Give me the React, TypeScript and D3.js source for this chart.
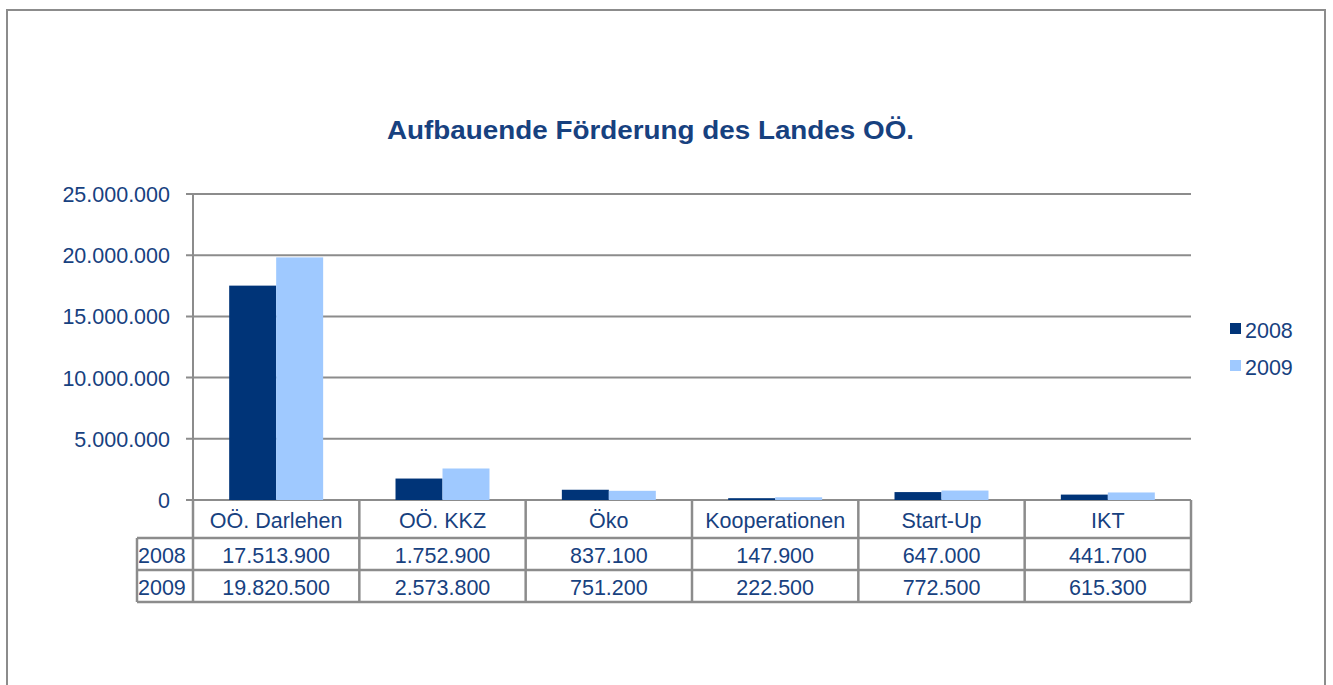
import React from "react";
import * as d3 from "d3";

const categories = ["OÖ. Darlehen", "OÖ. KKZ", "Öko", "Kooperationen", "Start-Up", "IKT"];
const series = ["2008", "2009"];
const values2008 = [17513900, 1752900, 837100, 147900, 647000, 441700];
const values2009 = [19820500, 2573800, 751200, 222500, 772500, 615300];
const yTicks = [0, 5000000, 10000000, 15000000, 20000000, 25000000];
const colors = ["#003478", "#9FC9FF"];

const W = 1333, H = 685;
const left = 193, right = 1191, top = 194, bottom = 500;
const textColor = "#17417F";
const grid = "#8C8C8C";
const font = "'Liberation Sans', Arial, sans-serif";
const fs = 21.5;

const fmt = (v: number) => d3.format(",")(v).replace(/,/g, ".");

export default function App() {
  const x = d3.scaleBand().domain(categories).range([left, right]);
  const inner = d3.scaleBand().domain(series).range([0, x.bandwidth()]).paddingOuter(0.77);
  const y = d3.scaleLinear().domain([0, 25000000]).range([bottom, top]);
  const data = [values2008, values2009];
  const rowH = [38, 32, 32];
  const tableTop = bottom;
  const rowLabelLeft = 137;

  return (
    <svg width={W} height={H} style={{ position: "absolute", left: 0, top: 0 }}>
      <rect x={0} y={0} width={W} height={H} fill="#fff" />
      <rect x={7} y={10} width={1318} height={700} fill="#fff" stroke="#8C8C8C" strokeWidth={2} />
      <text x={387} y={139} textLength={527} lengthAdjust="spacingAndGlyphs" fontFamily={font} fontWeight="bold" fontSize={26.5} fill={textColor}>
        Aufbauende Förderung des Landes OÖ.
      </text>
      {yTicks.map((t) => (
        <g key={t}>
          <line x1={186} x2={right} y1={y(t)} y2={y(t)} stroke={grid} strokeWidth={2} />
          <text x={170} y={y(t) + 8} textAnchor="end" fontFamily={font} fontSize={fs} fill={textColor}>
            {fmt(t)}
          </text>
        </g>
      ))}
      <line x1={left} x2={left} y1={top} y2={bottom} stroke={grid} strokeWidth={2} />
      {categories.map((c, i) =>
        series.map((s, j) => (
          <rect
            key={c + s}
            x={(x(c) as number) + (inner(s) as number)}
            y={y(data[j][i])}
            width={inner.bandwidth()}
            height={bottom - y(data[j][i])}
            fill={colors[j]}
          />
        ))
      )}
      {/* data table */}
      <g>
        {categories.map((c, i) => {
          const x0 = x(c) as number;
          const cx = x0 + x.bandwidth() / 2;
          return (
            <g key={c}>
              <text x={cx} y={tableTop + 28} textAnchor="middle" fontFamily={font} fontSize={fs} fill={textColor}>
                {c}
              </text>
              <text x={cx} y={tableTop + rowH[0] + 25} textAnchor="middle" fontFamily={font} fontSize={fs} fill={textColor}>
                {fmt(values2008[i])}
              </text>
              <text x={cx} y={tableTop + rowH[0] + rowH[1] + 25} textAnchor="middle" fontFamily={font} fontSize={fs} fill={textColor}>
                {fmt(values2009[i])}
              </text>
            </g>
          );
        })}
        {series.map((s, j) => (
          <text key={s} x={rowLabelLeft + 1} y={tableTop + rowH[0] + 25 + j * rowH[1]} fontFamily={font} fontSize={fs} fill={textColor}>
            {s}
          </text>
        ))}
        {/* horizontal lines */}
        {[1, 2, 3].map((k) => {
          const yy = tableTop + rowH[0] + (k - 1) * rowH[1];
          return <line key={k} x1={rowLabelLeft} x2={right} y1={yy} y2={yy} stroke={grid} strokeWidth={2.5} />;
        })}
        {/* vertical lines */}
        <line x1={rowLabelLeft} x2={rowLabelLeft} y1={tableTop + rowH[0]} y2={tableTop + rowH[0] + 2 * rowH[1]} stroke={grid} strokeWidth={2.5} />
        {categories.map((c) => (
          <line key={c} x1={x(c) as number} x2={x(c) as number} y1={tableTop} y2={tableTop + rowH[0] + 2 * rowH[1]} stroke={grid} strokeWidth={2.5} />
        ))}
        <line x1={right} x2={right} y1={tableTop} y2={tableTop + rowH[0] + 2 * rowH[1]} stroke={grid} strokeWidth={2.5} />
      </g>
      {/* legend */}
      {series.map((s, j) => (
        <g key={s}>
          <rect x={1230} y={323 + j * 37} width={11} height={11} fill={colors[j]} />
          <text x={1245} y={337.5 + j * 37} fontFamily={font} fontSize={fs} fill={textColor}>
            {s}
          </text>
        </g>
      ))}
    </svg>
  );
}
